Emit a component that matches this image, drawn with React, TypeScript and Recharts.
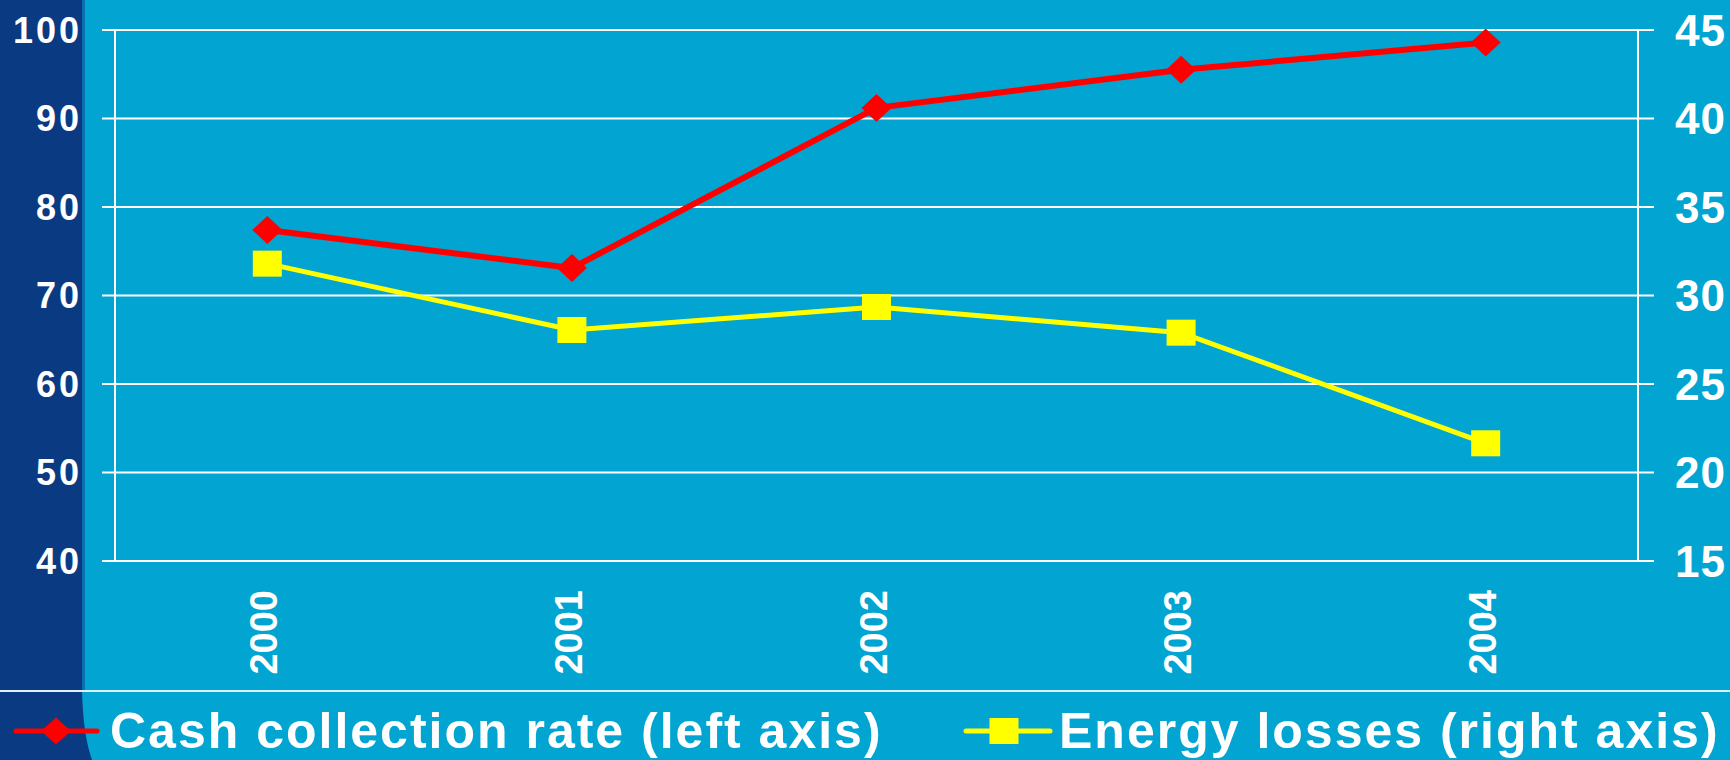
import { CartesianGrid, Legend, Line, LineChart, XAxis, YAxis } from "recharts";

const years = ["2000", "2001", "2002", "2003", "2004"];
const cashCollection = [77.4, 73.1, 91.2, 95.5, 98.6];
const energyLosses = [31.8, 28.05, 29.35, 27.9, 21.65];
const leftTicks = [40, 50, 60, 70, 80, 90, 100];
const rightTicks = [15, 20, 25, 30, 35, 40, 45];
const edgeTicks = [0, 1, 2, 3, 4, 5];

const FONT = "'Liberation Sans', Arial, sans-serif";
const BG = "#02a4d1";
const STRIP = "#0a3a82";
const RED = "#ff0000";
const YELLOW = "#ffff00";

const data = years.map((year, i) => ({
  year,
  cash: cashCollection[i],
  losses: energyLosses[i],
}));

const Diamond = ({ cx, cy }: any) => {
  if (cx == null || cy == null) return <g />;
  return <polygon points={`${cx - 15},${cy} ${cx},${cy - 14} ${cx + 15},${cy} ${cx},${cy + 14}`} fill={RED} />;
};

const Square = ({ cx, cy }: any) => {
  if (cx == null || cy == null) return <g />;
  return <rect x={cx - 14.5} y={cy - 13} width={29} height={26} fill={YELLOW} />;
};

const YearTick = ({ x, y, payload }: any) => (
  <text
    transform={`translate(${x + 10}, ${y + 29}) rotate(-90)`}
    textAnchor="end"
    fill="#fff"
    fontSize={38}
    fontWeight="bold"
    fontFamily={FONT}
  >
    {payload.value}
  </text>
);

const legendLayout = [
  { lineFrom: 16, lineTo: 97, mark: 56, text: 110 },
  { lineFrom: 966, lineTo: 1050, mark: 1004, text: 1059 },
];

const LegendContent = ({ payload }: any) => (
  <svg width={1730} height={70} style={{ display: "block" }}>
    <line x1={0} x2={1730} y1={1} y2={1} stroke="#dff1f8" strokeWidth={2} />
    {(payload || []).map((item: any, i: number) => {
      const pos = legendLayout[i];
      const cy = 41;
      return (
        <g key={item.value}>
          <line x1={pos.lineFrom} x2={pos.lineTo} y1={cy} y2={cy} stroke={item.color} strokeWidth={5} strokeLinecap="round" />
          {i === 0 ? (
            <polygon points={`${pos.mark - 15},${cy} ${pos.mark},${cy - 13.5} ${pos.mark + 15},${cy} ${pos.mark},${cy + 13.5}`} fill={item.color} />
          ) : (
            <rect x={pos.mark - 14.5} y={cy - 13} width={29} height={26} fill={item.color} />
          )}
          <text x={pos.text} y={58} fill="#fff" fontSize={50} fontWeight="bold" fontFamily={FONT} letterSpacing={2}>
            {item.value}
          </text>
        </g>
      );
    })}
  </svg>
);

export default function App() {
  return (
    <div style={{ position: "fixed", left: 0, top: 0, width: 1730, height: 760, background: BG, overflow: "hidden" }}>
      <svg width={1730} height={760} style={{ position: "absolute", left: 0, top: 0 }}>
        <path d="M0,0 L82,0 L82,690 Q83,735 92,760 L0,760 Z" fill={STRIP} />
        <rect x={82} y={0} width={3} height={690} fill="#0a6fae" />
      </svg>
      <div style={{ position: "absolute", left: 0, top: 0 }}>
        <LineChart width={1730} height={760} data={data} margin={{ top: 30, right: 0, bottom: 0, left: 0 }}>
          <CartesianGrid vertical={false} yAxisId="left" xAxisId="cat" stroke="#fff" strokeWidth={2} />
          <XAxis
            xAxisId="edges"
            type="number"
            domain={[0, 5]}
            ticks={edgeTicks}
            allowDataOverflow
            interval={0}
            height={0}
            tick={false}
            tickSize={11}
            axisLine={{ stroke: "#fff", strokeWidth: 2 }}
            tickLine={{ stroke: "#fff", strokeWidth: 2 }}
          />
          <XAxis
            xAxisId="cat"
            dataKey="year"
            scale="band"
            interval={0}
            height={129}
            axisLine={false}
            tickLine={false}
            tickSize={0}
            tickMargin={0}
            tick={<YearTick />}
          />
          <YAxis
            yAxisId="left"
            domain={[40, 100]}
            ticks={leftTicks}
            interval={0}
            width={115}
            tickSize={13}
            tickMargin={20}
            axisLine={{ stroke: "#fff", strokeWidth: 2 }}
            tickLine={{ stroke: "#fff", strokeWidth: 2 }}
            tick={{ fill: "#fff", fontSize: 36, fontWeight: "bold", fontFamily: FONT, letterSpacing: 3 }}
          />
          <YAxis
            yAxisId="right"
            orientation="right"
            domain={[15, 45]}
            ticks={rightTicks}
            interval={0}
            width={92}
            tickSize={16}
            tickMargin={21}
            axisLine={{ stroke: "#fff", strokeWidth: 2 }}
            tickLine={{ stroke: "#fff", strokeWidth: 2 }}
            tick={{ fill: "#fff", fontSize: 44, fontWeight: "bold", fontFamily: FONT, letterSpacing: 1 }}
          />
          <Legend verticalAlign="bottom" height={70} content={<LegendContent />} wrapperStyle={{ left: 0, bottom: 0, width: 1730, height: 70 }} />
          <Line
            xAxisId="cat"
            yAxisId="left"
            dataKey="cash"
            name="Cash collection rate (left axis)"
            stroke={RED}
            strokeWidth={6}
            dot={<Diamond />}
            activeDot={false}
            isAnimationActive={false}
          />
          <Line
            xAxisId="cat"
            yAxisId="right"
            dataKey="losses"
            name="Energy losses (right axis)"
            stroke={YELLOW}
            strokeWidth={5}
            dot={<Square />}
            activeDot={false}
            isAnimationActive={false}
          />
        </LineChart>
      </div>
    </div>
  );
}
